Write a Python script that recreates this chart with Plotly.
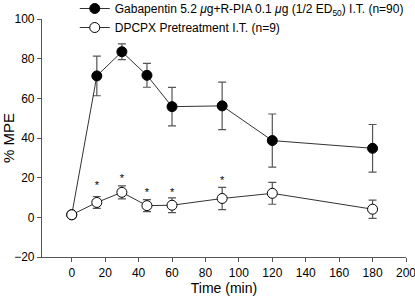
import plotly.graph_objects as go

time_min = [0, 15, 30, 45, 60, 90, 120, 180]
gaba_mean = [1.3, 71.3, 83.5, 71.6, 55.8, 56.2, 38.7, 34.8]
gaba_err = [0, 10, 4, 6, 9.7, 12, 13.4, 12]
dpcpx_mean = [1.3, 7.5, 12.6, 5.9, 6.1, 9.5, 12.1, 4.1]
dpcpx_err = [0, 3, 3.3, 3, 3.7, 5.6, 5.5, 4.6]
star_x = [15, 30, 45, 60, 90]
star_y = [15.5, 19.0, 12.3, 12.3, 18.3]
gaba_name = "Gabapentin 5.2 <i>μ</i>g+R-PIA 0.1 <i>μ</i>g (1/2 ED<sub>50</sub>) I.T. (n=90)"
dpcpx_name = "DPCPX Pretreatment I.T. (n=9)"
x_ticks = list(range(0, 201, 20))
y_ticks = list(range(-20, 101, 20))

fig = go.Figure()
fig.add_trace(go.Scatter(
    x=time_min, y=gaba_mean, name=gaba_name, mode="lines+markers",
    line=dict(color="#333333", width=1),
    marker=dict(symbol="circle", size=10, color="black", line=dict(color="black", width=1)),
    error_y=dict(type="data", array=gaba_err, color="#555555", thickness=1.2, width=4),
))
fig.add_trace(go.Scatter(
    x=time_min, y=dpcpx_mean, name=dpcpx_name, mode="lines+markers",
    line=dict(color="#333333", width=1),
    marker=dict(symbol="circle", size=10, color="white", line=dict(color="black", width=1)),
    error_y=dict(type="data", array=dpcpx_err, color="#555555", thickness=1.2, width=4),
))
fig.add_trace(go.Scatter(
    x=star_x, y=star_y, mode="text", text=["*"] * len(star_x),
    textfont=dict(size=11, color="black", family="Liberation Sans"),
    showlegend=False, hoverinfo="skip",
))

fig.update_layout(
    width=415, height=299,
    margin=dict(l=42, r=9, t=19, b=42, autoexpand=False),
    plot_bgcolor="white", paper_bgcolor="white",
    font=dict(family="Liberation Sans, Arial, sans-serif", size=12, color="black"),
    showlegend=True,
    legend=dict(
        x=0.09, y=1.105, xanchor="left", yanchor="top",
        bgcolor="rgba(0,0,0,0)", font=dict(size=12),
        tracegroupgap=0, itemwidth=30,
    ),
    xaxis=dict(
        range=[-17.8, 200], tickvals=x_ticks, ticks="outside", ticklen=4,
        tickcolor="#555555", showline=True, linecolor="#555555", linewidth=1.2,
        showgrid=False, zeroline=False, automargin=False,
        ticklabeloverflow="allow",
        title=dict(text="Time (min)", font=dict(size=14), standoff=4),
        tickfont=dict(size=12),
    ),
    yaxis=dict(
        range=[-20, 100], tickvals=y_ticks, ticks="outside", ticklen=4,
        tickcolor="#555555", showline=True, linecolor="#555555", linewidth=1.2,
        showgrid=False, zeroline=False, automargin=False,
        ticklabeloverflow="allow",
        title=dict(text="% MPE", font=dict(size=15), standoff=2),
        tickfont=dict(size=12),
    ),
)

fig.write_html(
    "out.html",
    config={"displayModeBar": False},
    post_script="document.body.style.margin='0';document.documentElement.style.overflow='hidden';document.body.style.overflow='hidden';",
)
